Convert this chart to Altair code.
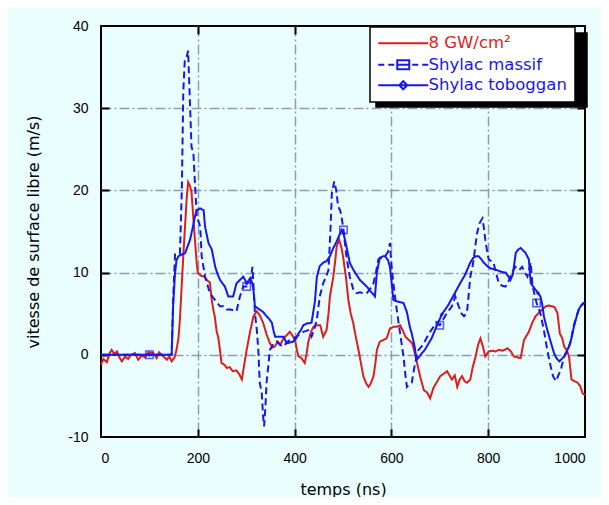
import altair as alt
import pandas as pd

# ---------------- data ----------------
SERIES = ["8 GW/cm²", "Shylac massif", "Shylac toboggan"]
COLORS = ["#e01c1c", "#1616f0", "#1616f0"]
DASHES = [[1, 0], [7, 4], [1, 0]]

red_t = [0, 5, 12, 18, 22, 28, 33, 38, 43, 50, 56, 62, 70, 77, 84, 91, 98, 108, 115, 120,
         125, 131, 136, 141, 146, 152, 156, 160, 163, 167, 170, 174, 177, 180, 184, 187, 191,
         194, 198, 200, 207, 214, 220, 225, 228, 232, 235, 239, 242, 246, 249, 255, 260, 266,
         272, 280, 286, 291, 295, 301, 308, 315, 322, 328, 335, 342, 349, 355, 359, 365, 371,
         377, 384, 390, 395, 401, 405, 408, 414, 421, 425, 428, 434, 439, 446, 453, 459, 466,
         470, 473, 477, 480, 484, 487, 492, 497, 501, 506, 511, 516, 521, 527, 532, 537, 542,
         548, 553, 558, 563, 567, 570, 576, 583, 590, 597, 604, 611, 618, 624, 629, 636, 643,
         648, 653, 660, 667, 674, 680, 687, 694, 701, 708, 715, 720, 725, 731, 736, 741, 746,
         751, 756, 763, 768, 774, 779, 784, 789, 794, 801, 808, 815, 822, 830, 840, 847, 853,
         860, 867, 874, 880, 884, 891, 898, 903, 908, 913, 919, 925, 932, 937, 943, 948, 953,
         957, 962, 967, 972, 978, 985, 990, 995, 1000]
red_v = [-1.2, -0.5, -0.9, 0.2, 0.6, 0.1, 0.4, -0.3, -0.8, -0.2, -0.5, 0.0, 0.2, -0.6, -0.1,
         -0.3, 0.3, 0.2, -0.4, 0.3, 0.0, -0.3, -0.6, -0.2, -0.8, -0.3, 0.6, 2.0, 4.3, 8.7, 12.0,
         16.0, 19.0, 21.0, 20.5, 19.8, 16.5, 14.0, 11.0, 10.0, 9.6, 9.5, 9.0, 8.8, 7.0, 5.5, 4.7,
         2.8, 2.2, 0.5, -1.0, -1.2, -1.6, -1.5, -2.0, -1.9, -2.4, -3.0, -1.5, 0.6, 2.8, 4.7, 5.3,
         4.8, 3.9, 2.5, 1.4, 0.9, 1.0, 1.6, 1.3, 2.0, 2.4, 2.8, 2.4, 1.8, 0.5, -0.2, -0.4, -1.0,
         0.2, 1.5, 2.8, 3.4, 3.6, 3.6, 2.2, 3.0, 5.0, 7.1, 8.5, 9.5, 11.5, 13.2, 14.0, 13.0, 11.6,
         9.5, 6.7, 5.0, 3.9, 2.0, 0.6, -1.0, -2.6, -3.5, -3.9, -3.4, -2.6, -1.0, 0.6, 1.6, 1.8,
         2.0, 3.2, 3.4, 3.4, 3.6, 2.9, 2.2, 1.8, 1.4, 0.3, -1.0, -2.8, -4.3, -4.6, -5.3, -4.0,
         -3.3, -2.6, -2.3, -2.0, -2.5, -3.0, -2.5, -3.9, -3.0, -2.6, -3.2, -3.4, -3.0, -1.5, -0.2,
         1.2, 2.0, 1.0, -0.2, 0.4, 0.5, 0.4, 0.6, 0.5, 0.8, 0.4, -0.2, -0.3, -0.4, 1.8, 2.4, 2.8,
         3.9, 4.7, 5.0, 5.3, 5.6, 5.9, 6.0, 5.9, 5.8, 5.1, 2.6, 2.0, 1.0, 0.6, -0.2, -3.0, -3.2,
         -3.4, -3.8, -4.7, -4.9]

massif_t = [0, 100, 146, 149, 153, 163, 167, 170, 173, 176, 180, 183, 187, 191, 194, 198, 205,
            208, 215, 220, 225, 235, 246, 253, 260, 267, 274, 280, 287, 294, 301, 308, 313, 318,
            322, 325, 328, 332, 335, 337, 340, 342, 349, 356, 363, 370, 377, 384, 390, 397, 404,
            411, 418, 428, 435, 440, 446, 452, 459, 465, 470, 474, 477, 482, 486, 490, 494, 497,
            501, 507, 514, 521, 528, 535, 542, 549, 556, 563, 568, 573, 580, 587, 593, 597, 600,
            604, 611, 618, 625, 629, 632, 637, 642, 649, 656, 662, 667, 674, 680, 687, 694, 700,
            710, 715, 720, 725, 732, 739, 745, 750, 756, 760, 763, 767, 770, 774, 777, 782, 788,
            791, 794, 798, 801, 806, 811, 816, 822, 829, 836, 841, 846, 851, 856, 860, 864, 870,
            876, 881, 885, 888, 891, 895, 900, 908, 915, 922, 929, 934, 940, 945, 950, 957, 964,
            970, 977, 982, 987, 995, 1000]
massif_v = [0.0, 0.0, 0.0, 6.7, 12.2, 12.2, 20.0, 32.0, 35.7, 36.0, 37.0, 32.0, 25.3, 24.5,
            21.0, 16.8, 15.6, 12.0, 9.5, 8.5, 7.5, 6.7, 5.9, 5.9, 5.5, 5.5, 5.4, 5.3, 7.1, 8.3,
            8.3, 8.7, 10.7, 5.1, 3.0, 0.6, -3.4, -4.6, -7.5, -8.7, -6.0, -3.4, 0.6, 1.3, 1.6, 1.2,
            1.0, 1.5, 1.8, 2.0, 2.2, 2.5, 2.8, 3.0, 2.2, 3.0, 4.3, 7.1, 8.7, 9.5, 10.3, 15.0, 19.7,
            21.1, 20.0, 18.0, 17.6, 16.8, 15.2, 12.0, 9.5, 8.0, 7.5, 7.6, 7.5, 7.5, 8.0, 8.7, 10.0,
            11.6, 11.8, 12.0, 12.5, 13.6, 11.0, 8.7, 5.5, 2.6, -0.2, -2.5, -3.9, -3.6, -3.4, -1.0,
            0.6, 1.0, 1.4, 2.2, 2.8, 3.4, 3.9, 3.6, 4.6, 5.1, 5.5, 5.9, 7.1, 5.9, 5.0, 4.7, 5.1,
            7.5, 9.5, 10.5, 11.6, 13.5, 14.8, 16.0, 16.6, 15.5, 14.0, 12.5, 11.6, 11.4, 11.2, 10.0,
            8.7, 8.4, 8.3, 8.8, 9.5, 10.2, 10.7, 10.5, 10.3, 10.7, 10.0, 9.5, 10.5, 11.2, 8.7, 7.5,
            6.3, 5.0, 3.0, 0.6, -1.4, -2.6, -3.2, -2.5, -1.8, -0.2, 0.6, 1.5, 3.6, 4.6, 5.5, 6.2,
            6.4]

tob_t = [0, 100, 146, 149, 153, 156, 160, 167, 174, 179, 184, 190, 194, 198, 205, 212, 215,
         222, 229, 236, 241, 246, 256, 263, 273, 280, 287, 294, 301, 308, 312, 315, 318, 328,
         335, 342, 347, 353, 357, 360, 370, 377, 384, 390, 397, 403, 408, 413, 418, 425, 435,
         442, 446, 452, 459, 466, 473, 480, 487, 492, 497, 501, 507, 514, 520, 525, 535, 542,
         549, 556, 562, 566, 570, 576, 583, 587, 593, 597, 601, 604, 611, 618, 625, 632, 638,
         642, 648, 652, 658, 663, 669, 676, 683, 693, 704, 717, 731, 742, 752, 762, 769, 775,
         780, 786, 791, 798, 805, 812, 818, 827, 836, 841, 846, 851, 857, 862, 867, 872, 877,
         884, 888, 893, 898, 903, 908, 912, 915, 920, 926, 931, 936, 941, 947, 952, 957, 962,
         967, 972, 977, 982, 987, 992, 998, 1000]
tob_v = [0.0, 0.0, 0.0, 5.9, 10.0, 11.5, 12.0, 12.2, 12.4, 13.2, 14.0, 15.6, 16.8, 17.6, 17.8,
         17.6, 15.6, 13.6, 12.8, 10.7, 9.8, 9.1, 8.3, 7.1, 7.1, 8.7, 9.1, 9.5, 8.7, 9.3, 8.8,
         7.9, 5.9, 5.5, 5.2, 4.7, 4.4, 3.9, 2.8, 2.2, 2.2, 2.2, 1.4, 1.5, 1.6, 2.0, 2.6, 3.0,
         3.6, 3.8, 3.9, 6.5, 9.5, 10.8, 11.2, 11.4, 12.0, 13.0, 13.8, 14.5, 15.2, 14.8, 13.2,
         11.2, 10.5, 10.0, 9.1, 8.7, 8.3, 7.8, 7.4, 7.1, 10.0, 11.8, 12.0, 12.0, 11.5, 10.7,
         8.5, 6.7, 6.5, 6.4, 6.3, 5.2, 3.4, 2.6, 1.0, -0.6, -0.2, 0.2, 0.6, 1.3, 2.0, 3.4, 4.9,
         6.0, 7.5, 8.7, 9.7, 11.1, 11.8, 12.0, 12.0, 11.6, 11.2, 10.8, 10.5, 10.4, 10.3, 10.1,
         10.0, 9.6, 9.1, 9.8, 12.4, 12.8, 13.0, 12.7, 12.4, 11.6, 8.7, 8.3, 7.9, 7.5, 7.1, 6.0,
         4.7, 3.5, 2.2, 1.2, 0.2, -0.4, -0.8, -0.5, -0.2, 0.4, 1.0, 2.0, 3.4, 4.5, 5.5, 6.0,
         6.3, 6.4]

square_t = [100, 301, 501, 700, 900]
square_v = [0.0, 8.3, 15.2, 3.6, 6.3]
diamond_t = [100, 301, 501, 704, 903]
diamond_v = [0.0, 8.7, 14.8, 4.9, 7.5]

X_TICKS = [0, 200, 400, 600, 800, 1000]
Y_TICKS = [-10, 0, 10, 20, 30, 40]
X_INNER = [200, 400, 600, 800]
Y_INNER = [0, 10, 20, 30]

# legend symbols: line + marker drawn as custom paths
LEGEND_SHAPES = [
    "M-5,0H5",
    "M-5,0H-3.8M-3,0H-1.8M-1.2,0H1.2M-1.2,-0.9H1.2V0.9H-1.2ZM1.8,0H3M3.8,0H5",
    "M-5,0H5M0,-0.8L0.8,0L0,0.8L-0.8,0Z",
]

# ---------------- tables ----------------
red_df = pd.DataFrame({"t": red_t, "v": red_v})
massif_df = pd.DataFrame({"t": massif_t, "v": massif_v})
tob_df = pd.DataFrame({"t": tob_t, "v": tob_v})
sq_df = pd.DataFrame({"t": square_t, "v": square_v})
di_df = pd.DataFrame({"t": diamond_t, "v": diamond_v})
leg_df = pd.DataFrame({"t": [red_t[0], massif_t[0], tob_t[0]],
                       "v": [red_v[0], massif_v[0], tob_v[0]],
                       "series": SERIES, "shadow": SERIES})

BG = "#ebfefe"
GRID = "#8e9cb2"
XS = alt.Scale(domain=[0, 1000], nice=False)
YS = alt.Scale(domain=[-10, 40], nice=False)
LABEL_FONT = "Liberation Sans"
TITLE_FONT = "DejaVu Sans"


def tick_axis(orient, values):
    return alt.Axis(orient=orient, offset=-8, values=values, ticks=True, tickSize=8,
                    tickWidth=2, tickColor="black", labels=False, domain=False,
                    grid=False, title=None)


grid_x = alt.Axis(orient="bottom", values=X_INNER, grid=True, labels=False, ticks=False,
                  domain=False, title=None, gridColor=GRID, gridDash=[10, 3, 2, 3],
                  gridWidth=1.5)
grid_y = alt.Axis(orient="left", values=Y_INNER, grid=True, labels=False, ticks=False,
                  domain=False, title=None, gridColor=GRID, gridDash=[10, 3, 2, 3],
                  gridWidth=1.5)


def line_layer(df, i, with_grid):
    return alt.Chart(df).mark_line(strokeWidth=2, color=COLORS[i], strokeDash=DASHES[i]).encode(
        x=alt.X("t:Q", scale=XS, axis=grid_x if with_grid else None),
        y=alt.Y("v:Q", scale=YS, axis=grid_y if with_grid else None),
    )


red_line = line_layer(red_df, 0, True)
massif_line = line_layer(massif_df, 1, False)
tob_line = line_layer(tob_df, 2, False)

squares = alt.Chart(sq_df).mark_point(shape="square", size=55, filled=False,
                                      strokeWidth=1.5, color=COLORS[1]).encode(
    x=alt.X("t:Q", scale=XS, axis=tick_axis("top", X_INNER)),
    y=alt.Y("v:Q", scale=YS, axis=tick_axis("right", Y_INNER)),
)

diamonds = alt.Chart(di_df).mark_point(shape="diamond", size=22, filled=True,
                                       color=COLORS[2]).encode(
    x=alt.X("t:Q", scale=XS, axis=tick_axis("bottom", X_INNER)),
    y=alt.Y("v:Q", scale=YS, axis=tick_axis("left", Y_INNER)),
)

common_leg = dict(
    orient="none", title=None, padding=8, rowPadding=3.5,
    symbolSize=100, symbolStrokeWidth=2, labelOffset=17,
    symbolOpacity=1, symbolFillColor="transparent",
    labelFont=TITLE_FONT, labelFontSize=16.5, labelLimit=0,
)

legend = alt.Legend(
    legendX=269, legendY=1, fillColor="white", strokeColor="black", symbolOffset=17,
    labelColor={"expr": "datum.value === '8 GW/cm²' ? '%s' : '%s'" % (COLORS[0], COLORS[1])},
    zindex=2, **common_leg,
)
# drop shadow of the legend box: a black box of the same size, no text
shadow_legend = alt.Legend(
    legendX=275, legendY=7, fillColor="black", strokeColor="black",
    labelColor="black", labelExpr="''", symbolStrokeColor="black",
    symbolType="M-19,0H19", symbolOffset=87, zindex=1, **common_leg,
)

carrier = alt.Chart(leg_df).mark_point(opacity=0, filled=False).encode(
    x=alt.X("t:Q", scale=XS, axis=alt.Axis(orient="bottom", values=X_TICKS, ticks=False,
            tickSize=0, domain=False, grid=False, labelPadding=14, labelFont=LABEL_FONT,
            labelFontSize=14, labelColor="black", labelExpr="'' + datum.value",
            title="temps (ns)", titleFont=TITLE_FONT,
            titleFontSize=16, titleFontWeight="normal", titleColor="black", titlePadding=16)),
    y=alt.Y("v:Q", scale=YS, axis=alt.Axis(orient="left", values=Y_TICKS, ticks=False,
            tickSize=0, domain=False, grid=False, labelPadding=13, labelFont=LABEL_FONT,
            labelFontSize=14, labelColor="black", labelExpr="'' + datum.value",
            title="vitesse de surface libre (m/s)",
            titleFont=TITLE_FONT, titleFontSize=16, titleFontWeight="normal",
            titleColor="black", titlePadding=26)),
    color=alt.Color("series:N", scale=alt.Scale(domain=SERIES, range=COLORS), legend=legend),
    shape=alt.Shape("series:N", scale=alt.Scale(domain=SERIES, range=LEGEND_SHAPES),
                    legend=legend),
)

shadow = alt.Chart(leg_df).mark_point(opacity=0, filled=False, color="black").encode(
    x=alt.X("t:Q", scale=XS, axis=None),
    y=alt.Y("v:Q", scale=YS, axis=None),
    strokeDash=alt.StrokeDash("shadow:N", scale=alt.Scale(range=[[1, 0], [1, 0], [1, 0]]),
                              legend=shadow_legend),
)

chart = alt.layer(red_line, massif_line, tob_line, squares, diamonds, carrier, shadow
).resolve_axis(
    x="independent", y="independent"
).properties(
    width=484, height=411,
    autosize=alt.AutoSizeParams(type="none"),
    padding={"left": 93, "top": 18, "right": 16, "bottom": 60},
    background=BG,
).configure_view(
    stroke="black", strokeWidth=2, fill=BG
).configure_legend(
    strokeWidth=1.5
)

chart.save("out.html", embed_options={"renderer": "svg", "actions": False})
